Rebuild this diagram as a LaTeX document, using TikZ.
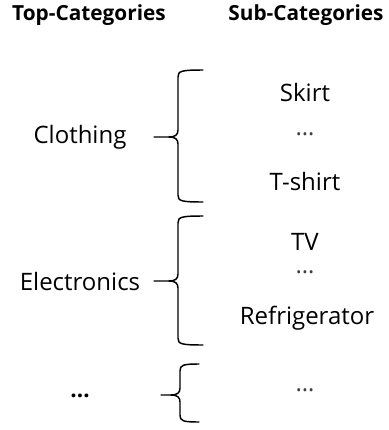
\documentclass[tikz,border=0pt]{standalone}
\usepackage{fontspec}
\setmainfont{Open Sans}
\usepackage{tikz}
\usetikzlibrary{positioning}

% brace: tip x, vertical x, end x, top y, tip y, bottom y
\newcommand{\catbrace}[6]{%
  \draw[bracestyle] ({#3},{#4}) .. controls ({#2+3},{#4}) and ({#2},{#4+1}) .. ({#2},{#4+7})
     -- ({#2},{#5-7}) .. controls ({#2},{#5-2}) and ({#2-3},{#5}) .. ({#2-9},{#5}) -- ({#1},{#5});
  \draw[bracestyle] ({#2-9},{#5}) .. controls ({#2-3},{#5}) and ({#2},{#5+2}) .. ({#2},{#5+7})
     -- ({#2},{#6-7}) .. controls ({#2},{#6-1}) and ({#2+3},{#6}) .. ({#3},{#6});
}

\begin{document}
\begin{tikzpicture}[x=0.75pt, y=-0.75pt,
    header/.style={font=\bfseries\fontsize{15.6}{18}\selectfont},
    catname/.style={font=\fontsize{18}{21}\selectfont},
    subname/.style={font=\fontsize{18}{21}\selectfont},
    bracestyle/.style={line width=1.1pt, line cap=round, line join=round}]
  \useasboundingbox (0,0) rectangle (389,430);
  % column headers
  \node[header] (tophead) at (89,15) {Top-Categories};
  \node[header] (subhead) at (306,15) {Sub-Categories};
  % top categories
  \node[catname] (clothing) at (80,137) {Clothing};
  \node[catname] (electronics) at (80,281) {Electronics};
  \node[catname, font=\bfseries\fontsize{17}{20}\selectfont] (othercat) at (80,396) {\dots};
  % sub categories
  \node[subname] (skirt) at (305,92) {Skirt};
  \node[subname, text=black!75] (clothdots) at (305,134) {\dots};
  \node[subname] (tshirt) at (305,181) {T-shirt};
  \node[subname] (tv) at (305,242) {TV};
  \node[subname, text=black!75] (elecdots) at (305,272) {\dots};
  \node[subname] (fridge) at (307,318) {Refrigerator};
  \node[subname, text=black!75] (otherdots) at (305,390) {\dots};
  % braces
  \catbrace{154}{178}{203}{70}{137}{202}
  \catbrace{154}{178}{203}{216}{281}{345}
  \catbrace{161}{180}{199}{364}{395}{422}
\end{tikzpicture}
\end{document}
